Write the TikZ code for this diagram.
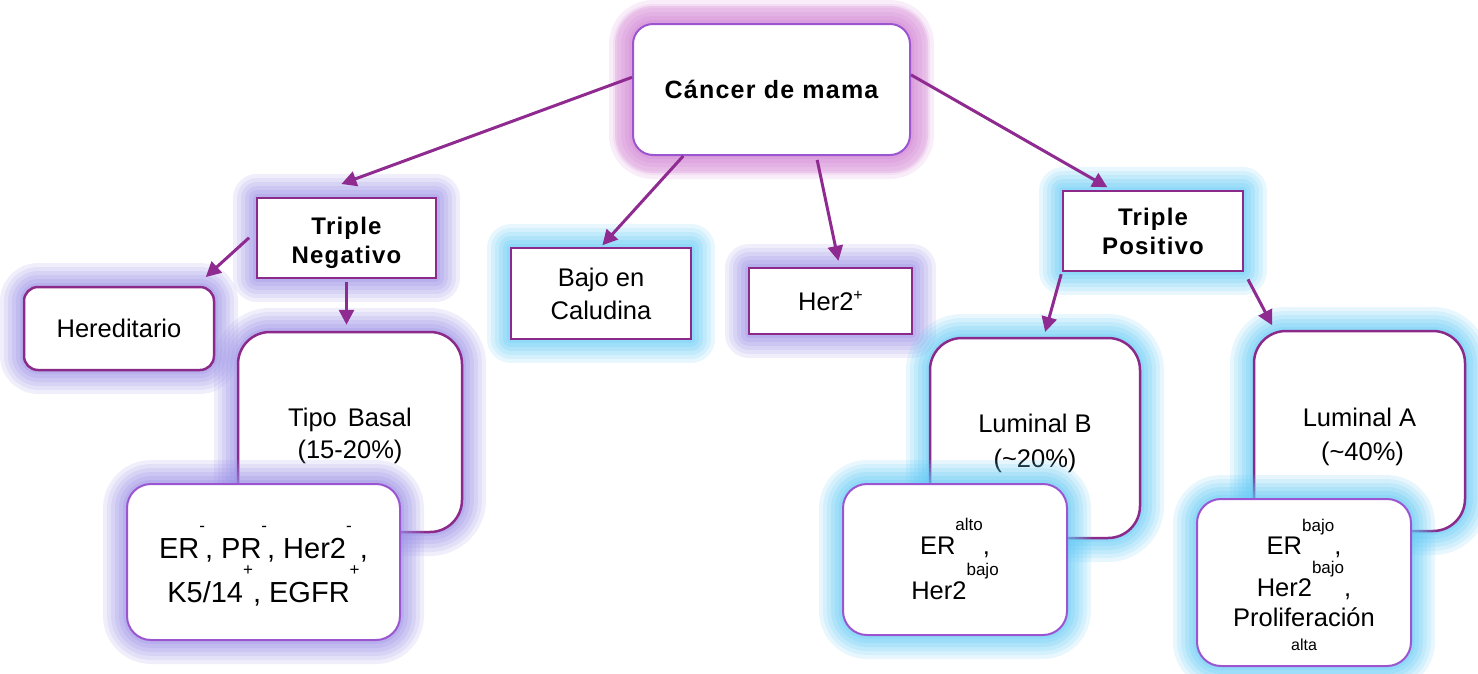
\documentclass[tikz,border=0pt]{standalone}
\usepackage{fontspec}
\setmainfont{Liberation Sans}
\newfontfamily\boldsp[LetterSpace=5]{Liberation Sans}
\usetikzlibrary{arrows.meta}
\definecolor{bord}{HTML}{8B2A8B}
\definecolor{viol}{HTML}{9B55D0}
\definecolor{pinkglow}{HTML}{D385D4}
\definecolor{lavglow}{HTML}{9A90E6}
\definecolor{cyanglow}{HTML}{62C9F5}
\definecolor{arrc}{HTML}{8E2A90}
\newcommand\hsup[1]{\raisebox{0.92em}[0pt][0pt]{\fontsize{17}{17}\selectfont #1}}
\newcommand\normsz{\fontsize{25.5}{32}\selectfont}
\newcommand\topstrut[1]{\rule{0pt}{#1}}
\tikzset{
  glow/.style={
    preaction={draw=#1,line width=48pt,draw opacity=0.15,line join=round},
    preaction={draw=#1,line width=40pt,draw opacity=0.15,line join=round},
    preaction={draw=#1,line width=32pt,draw opacity=0.17,line join=round},
    preaction={draw=#1,line width=24pt,draw opacity=0.19,line join=round},
    preaction={draw=#1,line width=16pt,draw opacity=0.21,line join=round},
    preaction={draw=#1,line width=8pt,draw opacity=0.25,line join=round}},
  strongglow/.style={glow=#1,
    preaction={draw=#1,line width=36pt,draw opacity=0.25,line join=round}},
  box/.style={draw=bord, fill=white, line width=2.5pt, inner sep=0pt, align=center, font=\normsz},
  rbox/.style={box, rounded corners=#1},
  boldtxt/.style={font=\boldsp\bfseries\fontsize{24}{29}\selectfont},
  arr/.style={draw=arrc, line width=3pt, -{Triangle[length=15pt,width=15pt]}}
}
\begin{document}
\begin{tikzpicture}[x=1pt,y=-1pt]
\useasboundingbox (0,0) rectangle (1478,673);
% top
\node[rbox=20pt, draw=viol, line width=2pt, strongglow=pinkglow, minimum width=277pt, minimum height=131pt, boldtxt, font=\boldsp\bfseries\fontsize{25}{30}\selectfont] (cancer) at (771.5,89.5) {Cáncer de mama};
% left branch
\node[box, glow=lavglow, minimum width=179pt, minimum height=80pt, boldtxt] (tn) at (346.5,238) {\topstrut{27.5pt}Triple\\Negativo};
\node[rbox=14pt, glow=lavglow, minimum width=190pt, minimum height=83pt] (her) at (119,328.5) {Hereditario};
\node[rbox=32pt, glow=lavglow, minimum width=224pt, minimum height=200pt] (tb) at (350,432) {\topstrut{26pt}Tipo\hspace{4pt} Basal\\(15-20\%)};
\node[rbox=24pt, draw=viol, line width=2pt, glow=lavglow, minimum width=273pt, minimum height=156pt, font=\fontsize{29}{44}\selectfont] (erneg) at (263.5,562) {\topstrut{41pt}ER\hsup{-}, PR\hsup{-}, Her2\hsup{-} ,\\K5/14\hsup{+}, EGFR\hsup{+}};
% middle
\node[box, glow=cyanglow, minimum width=180pt, minimum height=91pt, font=\fontsize{25.5}{33}\selectfont] (bec) at (601,293.5) {Bajo en\\Caludina};
\node[box, glow=lavglow, minimum width=163pt, minimum height=66pt] (her2) at (830.5,301) {Her2{\raisebox{0.42em}{\fontsize{16}{16}\selectfont +}}};
% right branch
\node[box, glow=cyanglow, minimum width=180pt, minimum height=80pt, boldtxt] (tp) at (1153,231) {Triple\\Positivo};
\node[rbox=32pt, glow=cyanglow, minimum width=210pt, minimum height=200pt, font=\fontsize{25.5}{35}\selectfont] (lumB) at (1035,438) {\topstrut{28.5pt}Luminal B\\(\textasciitilde20\%)};
\node[rbox=24pt, draw=viol, line width=2pt, glow=cyanglow, minimum width=224pt, minimum height=151pt, font=\fontsize{25.5}{45}\selectfont] (eralto) at (955,559.5) {\topstrut{34.5pt}ER\hsup{alto},\\Her2\hsup{bajo}};
\node[rbox=32pt, glow=cyanglow, minimum width=211pt, minimum height=200pt, font=\fontsize{25.5}{34}\selectfont] (lumA) at (1359.5,431) {\topstrut{30.5pt}Luminal A\\\hspace{6pt}(\textasciitilde40\%)};
\node[rbox=24pt, draw=viol, line width=2pt, glow=cyanglow, minimum width=214pt, minimum height=167pt, font=\fontsize{25.5}{30}\selectfont] (erbajo) at (1304,582.5) {\topstrut{40.5pt}ER\hsup{bajo},\\[12pt]Her2\hsup{bajo},\\Proliferación\\[-6pt]{\fontsize{16}{16}\selectfont alta}};
% connectors
\draw[arr, shorten >=37pt] (cancer.175) -- (tn.134);
\draw[arr, shorten >=2pt] (cancer.217) -- (bec.north);
\draw[arr, shorten <=4pt, shorten >=6pt] (cancer.304) -- (her2.75);
\draw[arr, shorten >=5pt] (cancer.6) -- (tp.135);
\draw[arr, shorten <=9pt, shorten >=13pt] (tn.176) -- (her.29);
\draw[arr, shorten <=3pt, shorten >=6pt] (tn.south) -- (tn.south |- tb.north);
\draw[arr, shorten <=2pt, shorten >=5pt] (tp.south west) -- (lumB.85);
\draw[arr, shorten <=8pt, shorten >=5pt] (tp.south east) -- (lumA.130);
\end{tikzpicture}
\end{document}
